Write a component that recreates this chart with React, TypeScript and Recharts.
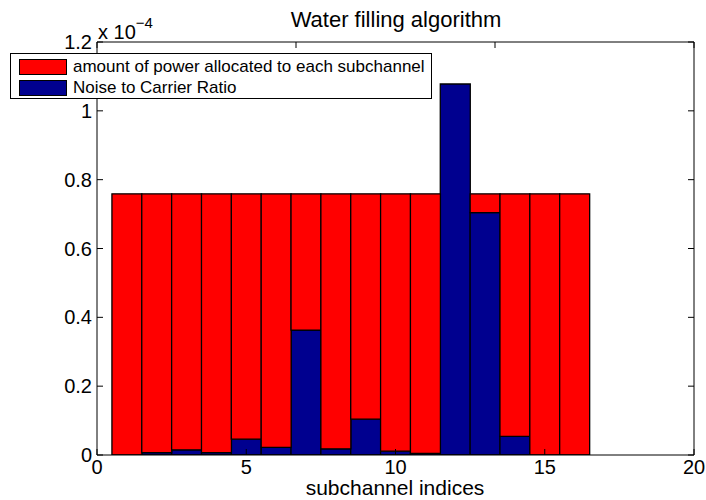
import React from 'react';
import { BarChart, Bar, XAxis, YAxis } from 'recharts';

// values in units of 1e-4
const subchannels = [1, 2, 3, 4, 5, 6, 7, 8, 9, 10, 11, 12, 13, 14, 15, 16];
const noiseToCarrier = [0, 0.007, 0.015, 0.007, 0.046, 0.022, 0.363, 0.018, 0.104, 0.011, 0.005, 1.078, 0.704, 0.054, 0, 0];
const powerAllocated = [0.759, 0.752, 0.744, 0.752, 0.713, 0.737, 0.396, 0.741, 0.655, 0.748, 0.754, 0, 0.055, 0.705, 0.759, 0.759];
const xTicks = [0, 5, 10, 15, 20];
const yTicks = [0, 0.2, 0.4, 0.6, 0.8, 1, 1.2];

const FONT = '"Liberation Sans", Arial, sans-serif';

const chartData = subchannels.map((ch, i) => ({
  ch,
  noise: noiseToCarrier[i],
  power: powerAllocated[i],
}));

const LegendBox = () => (
  <div
    style={{
      position: 'absolute',
      left: 10,
      top: 53,
      background: '#fff',
      border: '1px solid #000',
      width: 422,
      height: 46,
      fontFamily: FONT,
      fontSize: 17,
      lineHeight: '19px',
      whiteSpace: 'nowrap',
      boxSizing: 'border-box',
      padding: '3px 8px',
    }}
  >
    <div style={{ display: 'flex', alignItems: 'center', height: 19, marginBottom: 2 }}>
      <span style={{ flex: 'none', width: 46, height: 14, background: '#ff0000', border: '1px solid #000', marginRight: 6 }} />
      <span>amount of power allocated to each subchannel</span>
    </div>
    <div style={{ display: 'flex', alignItems: 'center', height: 19 }}>
      <span style={{ flex: 'none', width: 46, height: 14, background: '#00008f', border: '1px solid #000', marginRight: 6 }} />
      <span>Noise to Carrier Ratio</span>
    </div>
  </div>
);

const App = () => {
  const axisLine = { stroke: '#000', strokeWidth: 1 };
  const tickStyle = { fill: '#000', fontSize: 20, fontFamily: FONT };
  return (
    <div style={{ position: 'absolute', left: 0, top: 0, width: 706, height: 500, background: '#fff' }}>
      <div style={{ position: 'absolute', left: 0, width: 792, top: 7, textAlign: 'center', fontFamily: FONT, fontSize: 22 }}>
        Water filling algorithm
      </div>
      <div style={{ position: 'absolute', left: 98, top: 14, fontFamily: FONT, fontSize: 20, lineHeight: '24px' }}>
        x 10<sup style={{ fontSize: 15, position: 'relative', top: -3 }}>−4</sup>
      </div>
      <div
        style={{
          position: 'absolute',
          left: 0,
          width: 790,
          top: 479,
          textAlign: 'center',
          fontFamily: FONT,
          fontSize: 21,
          lineHeight: '17px',
        }}
      >
        subchannel indices
      </div>
      <BarChart
        width={706}
        height={500}
        data={chartData}
        barCategoryGap={0}
        barGap={0}
        margin={{ top: 41, right: 11, left: 37, bottom: 15 }}
      >
        <XAxis
          xAxisId="bottom"
          dataKey="ch"
          type="number"
          domain={[0, 20]}
          ticks={xTicks}
          allowDataOverflow
          height={30}
          axisLine={axisLine}
          tickLine={axisLine}
          tickSize={-6}
          tickMargin={11}
          tick={tickStyle}
        />
        <XAxis
          xAxisId="top"
          orientation="top"
          type="number"
          domain={[0, 20]}
          ticks={xTicks}
          allowDataOverflow
          height={1}
          axisLine={axisLine}
          tickLine={axisLine}
          tickSize={-6}
          tickFormatter={() => ''}
        />
        <YAxis
          yAxisId="left"
          type="number"
          domain={[0, 1.2]}
          ticks={yTicks}
          allowDataOverflow
          width={60}
          axisLine={axisLine}
          tickLine={axisLine}
          tickSize={-6}
          tickMargin={11}
          tick={tickStyle}
        />
        <YAxis
          yAxisId="right"
          orientation="right"
          type="number"
          domain={[0, 1.2]}
          ticks={yTicks}
          allowDataOverflow
          width={1}
          axisLine={axisLine}
          tickLine={axisLine}
          tickSize={-6}
          tickFormatter={() => ''}
        />
        <Bar
          xAxisId="bottom"
          yAxisId="left"
          dataKey="noise"
          stackId="a"
          fill="#00008f"
          stroke="#000"
          strokeWidth={1.3}
          isAnimationActive={false}
        />
        <Bar
          xAxisId="bottom"
          yAxisId="left"
          dataKey="power"
          stackId="a"
          fill="#ff0000"
          stroke="#000"
          strokeWidth={1.3}
          isAnimationActive={false}
        />
      </BarChart>
      <LegendBox />
    </div>
  );
};

export default App;
